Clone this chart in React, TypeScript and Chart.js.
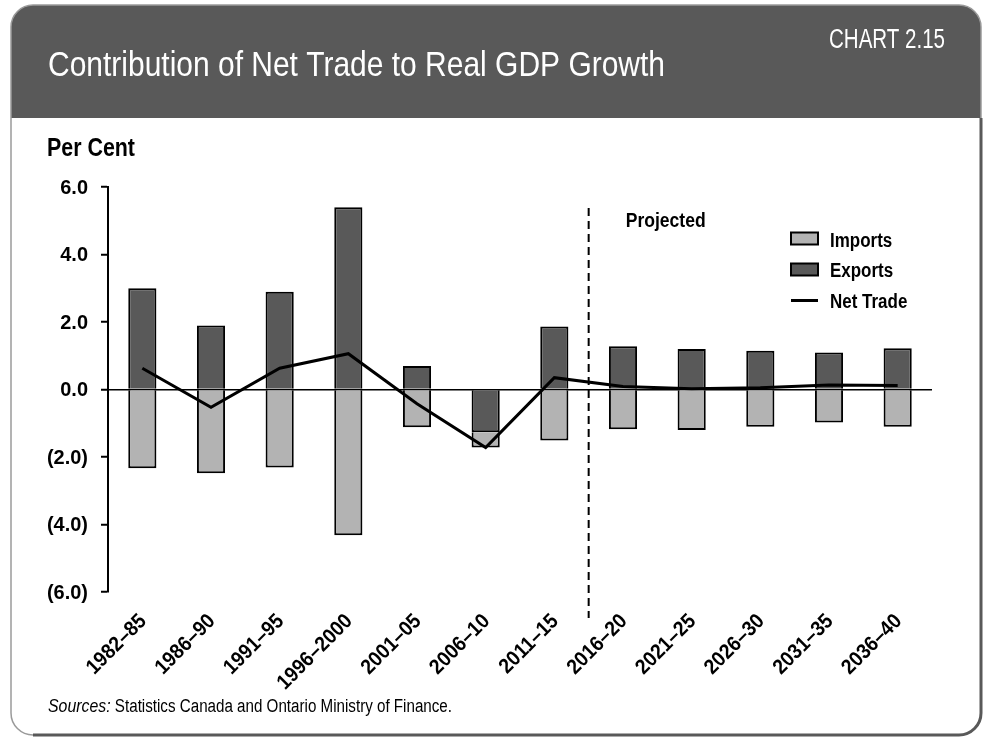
import React, { useEffect, useRef } from "react";
import { Chart, registerables } from "chart.js";

Chart.register(...registerables);

const categories = [
  "1982–85", "1986–90", "1991–95", "1996–2000", "2001–05", "2006–10",
  "2011–15", "2016–20", "2021–25", "2026–30", "2031–35", "2036–40",
];
const exportsData = [3.0, 1.9, 2.9, 5.4, 0.7, -1.27, 1.87, 1.28, 1.2, 1.15, 1.1, 1.22];
const importsData = [-2.33, -2.48, -2.31, -4.32, -1.12, -0.45, -1.51, -1.18, -1.2, -1.1, -0.98, -1.1];
const netTrade = [0.63, -0.53, 0.63, 1.06, -0.42, -1.72, 0.35, 0.09, 0.02, 0.05, 0.13, 0.12];
const yTickValues = [-6, -4, -2, 0, 2, 4, 6];

const TITLE = "Contribution of Net Trade to Real GDP Growth";
const CHART_NO = "CHART 2.15";
const Y_TITLE = "Per Cent";
const PROJECTED = "Projected";
const SOURCE_LEAD = "Sources:";
const SOURCE_TEXT = " Statistics Canada and Ontario Ministry of Finance.";
const legendItems = ["Imports", "Exports", "Net Trade"];

const FONT = "'Liberation Sans', Arimo, Arial, sans-serif";
const DARK = "#595959";
const LIGHT = "#b3b3b3";
const SX = 0.9;

function fmtTick(v: number): string {
  return v < 0 ? `(${Math.abs(v).toFixed(1)})` : v.toFixed(1);
}

function ctext(
  ctx: CanvasRenderingContext2D, text: string, x: number, y: number,
  font: string, align: "left" | "right" | "center", baseline: CanvasTextBaseline,
  targetW?: number, sx: number = SX,
) {
  ctx.save();
  ctx.font = font;
  ctx.textBaseline = baseline;
  ctx.textAlign = align;
  let s = sx;
  if (targetW) s = targetW / ctx.measureText(text).width;
  ctx.translate(x, y);
  ctx.scale(s, 1);
  ctx.fillText(text, 0, 0);
  ctx.restore();
  return s;
}

const backdrop = {
  id: "backdrop",
  beforeDraw(chart: any) {
    const ctx = chart.ctx as CanvasRenderingContext2D;
    const W = chart.width;
    const H = chart.height;
    ctx.save();
    ctx.fillStyle = "#ffffff";
    ctx.fillRect(0, 0, W, H);
    const L = 11, T = 5, R = 981, B = 735, r = 22;
    ctx.beginPath();
    ctx.roundRect(L, T, R - L, B - T, r);
    ctx.fillStyle = "#ffffff";
    ctx.fill();
    ctx.save();
    ctx.clip();
    ctx.fillStyle = DARK;
    ctx.fillRect(L, T, R - L, 118 - T);
    ctx.restore();
    ctx.lineWidth = 1.5;
    ctx.strokeStyle = "#9a9a9a";
    ctx.beginPath();
    ctx.roundRect(L, T, R - L, B - T, r);
    ctx.stroke();
    ctx.lineWidth = 3;
    ctx.strokeStyle = DARK;
    ctx.beginPath();
    ctx.moveTo(L + r, B);
    ctx.lineTo(R - r, B);
    ctx.arcTo(R, B, R, B - r, r);
    ctx.lineTo(R, 118);
    ctx.stroke();
    ctx.fillStyle = "#ffffff";
    ctext(ctx, TITLE, 48, 76, `35px ${FONT}`, "left", "alphabetic", 617);
    ctext(ctx, CHART_NO, 945, 48, `27px ${FONT}`, "right", "alphabetic", 116);
    ctx.fillStyle = "#000000";
    ctext(ctx, Y_TITLE, 47, 156, `bold 25px ${FONT}`, "left", "alphabetic", 88);
    ctx.font = `italic 18px ${FONT}`;
    const s1 = SX * 0.98;
    const leadW = ctx.measureText(SOURCE_LEAD).width * s1;
    ctext(ctx, SOURCE_LEAD, 48, 712, `italic 18px ${FONT}`, "left", "alphabetic", undefined, s1);
    ctext(ctx, SOURCE_TEXT, 48 + leadW, 712, `18px ${FONT}`, "left", "alphabetic", 452 - 48 - leadW);
    ctx.restore();
  },
};

const overlay = {
  id: "overlay",
  afterDatasetsDraw(chart: any) {
    const ctx = chart.ctx as CanvasRenderingContext2D;
    const xs = chart.scales.x;
    const ys = chart.scales.y;
    const area = chart.chartArea;
    ctx.save();
    ctx.fillStyle = "#000";
    ys.ticks.forEach((t: any) => {
      ctext(ctx, fmtTick(t.value), area.left - 20, ys.getPixelForValue(t.value) + 1,
        `bold 21px ${FONT}`, "right", "middle", undefined, 0.95);
    });
    const labels: string[] = chart.data.labels;
    labels.forEach((lab, i) => {
      const px = xs.getPixelForValue(i);
      ctx.save();
      ctx.translate(px + 1, area.bottom + 26);
      ctx.rotate(-Math.PI / 4);
      ctx.scale(0.92, 1);
      ctx.font = `bold 21px ${FONT}`;
      ctx.textAlign = "right";
      ctx.textBaseline = "middle";
      ctx.fillText(lab, 0, 0);
      ctx.restore();
    });
    const xd = (xs.getPixelForValue(6) + xs.getPixelForValue(7)) / 2;
    ctx.strokeStyle = "#000";
    ctx.lineWidth = 2;
    ctx.setLineDash([8, 5]);
    ctx.beginPath();
    ctx.moveTo(xd, area.top + 21);
    ctx.lineTo(xd, area.bottom + 26);
    ctx.stroke();
    ctx.setLineDash([]);
    ctext(ctx, PROJECTED, xd + 37, 227, `bold 20px ${FONT}`, "left", "alphabetic", 80);
    const lx = 791, lw = 27;
    const rows = [238.5, 269.5, 300.5];
    ctx.lineWidth = 2;
    ctx.fillStyle = LIGHT;
    ctx.fillRect(lx, rows[0] - 6, lw, 12);
    ctx.strokeRect(lx, rows[0] - 6, lw, 12);
    ctx.fillStyle = DARK;
    ctx.fillRect(lx, rows[1] - 6, lw, 12);
    ctx.strokeRect(lx, rows[1] - 6, lw, 12);
    ctx.lineWidth = 3;
    ctx.beginPath();
    ctx.moveTo(lx, rows[2]);
    ctx.lineTo(lx + lw, rows[2]);
    ctx.stroke();
    ctx.fillStyle = "#000";
    const baselines = [246.5, 277, 307.5];
    legendItems.forEach((t, i) =>
      ctext(ctx, t, 830, baselines[i], `bold 19.5px ${FONT}`, "left", "alphabetic", undefined, 0.87));
    ctx.restore();
  },
};

export default function App() {
  const canvasRef = useRef<HTMLCanvasElement | null>(null);

  useEffect(() => {
    if (!canvasRef.current) return;
    const chart = new Chart(canvasRef.current, {
      type: "bar",
      data: {
        labels: categories,
        datasets: [
          {
            type: "bar",
            label: "Exports",
            data: exportsData,
            backgroundColor: DARK,
            borderColor: "#000",
            borderWidth: 2,
            barPercentage: 0.41,
            categoryPercentage: 1,
            stack: "trade",
            order: 1,
          },
          {
            type: "bar",
            label: "Imports",
            data: importsData,
            backgroundColor: LIGHT,
            borderColor: "#000",
            borderWidth: 2,
            barPercentage: 0.41,
            categoryPercentage: 1,
            stack: "trade",
            order: 1,
          },
          {
            type: "line",
            label: "Net Trade",
            data: netTrade,
            borderColor: "#000",
            borderWidth: 3,
            pointRadius: 0,
            tension: 0,
            fill: false,
            stack: "net",
            order: 0,
          } as any,
        ],
      },
      options: {
        animation: false,
        responsive: true,
        maintainAspectRatio: false,
        layout: { padding: { left: 0, top: 187, right: 51, bottom: 0 } },
        plugins: {
          legend: { display: false },
          tooltip: { enabled: false },
        },
        scales: {
          x: {
            stacked: true,
            grid: { display: false },
            border: { display: false },
            ticks: { display: false, autoSkip: false },
            afterFit: (s: any) => { s.height = 148; },
          },
          y: {
            stacked: true,
            min: -6,
            max: 6,
            afterBuildTicks: (s: any) => { s.ticks = yTickValues.map((v) => ({ value: v })); },
            ticks: { display: false },
            grid: {
              color: (c: any) => (c.tick && c.tick.value === 0 ? "#000" : "rgba(0,0,0,0)"),
              lineWidth: 1.5,
              tickColor: "#000",
              tickWidth: 2,
              tickLength: 7,
            },
            border: { display: true, color: "#000", width: 2 },
            afterFit: (s: any) => { s.width = 108; },
          },
        },
      },
      plugins: [backdrop, overlay],
    });
    return () => chart.destroy();
  }, []);

  return (
    <div style={{ position: "fixed", left: 0, top: 0, width: 983, height: 740, background: "#fff" }}>
      <canvas ref={canvasRef} />
    </div>
  );
}
